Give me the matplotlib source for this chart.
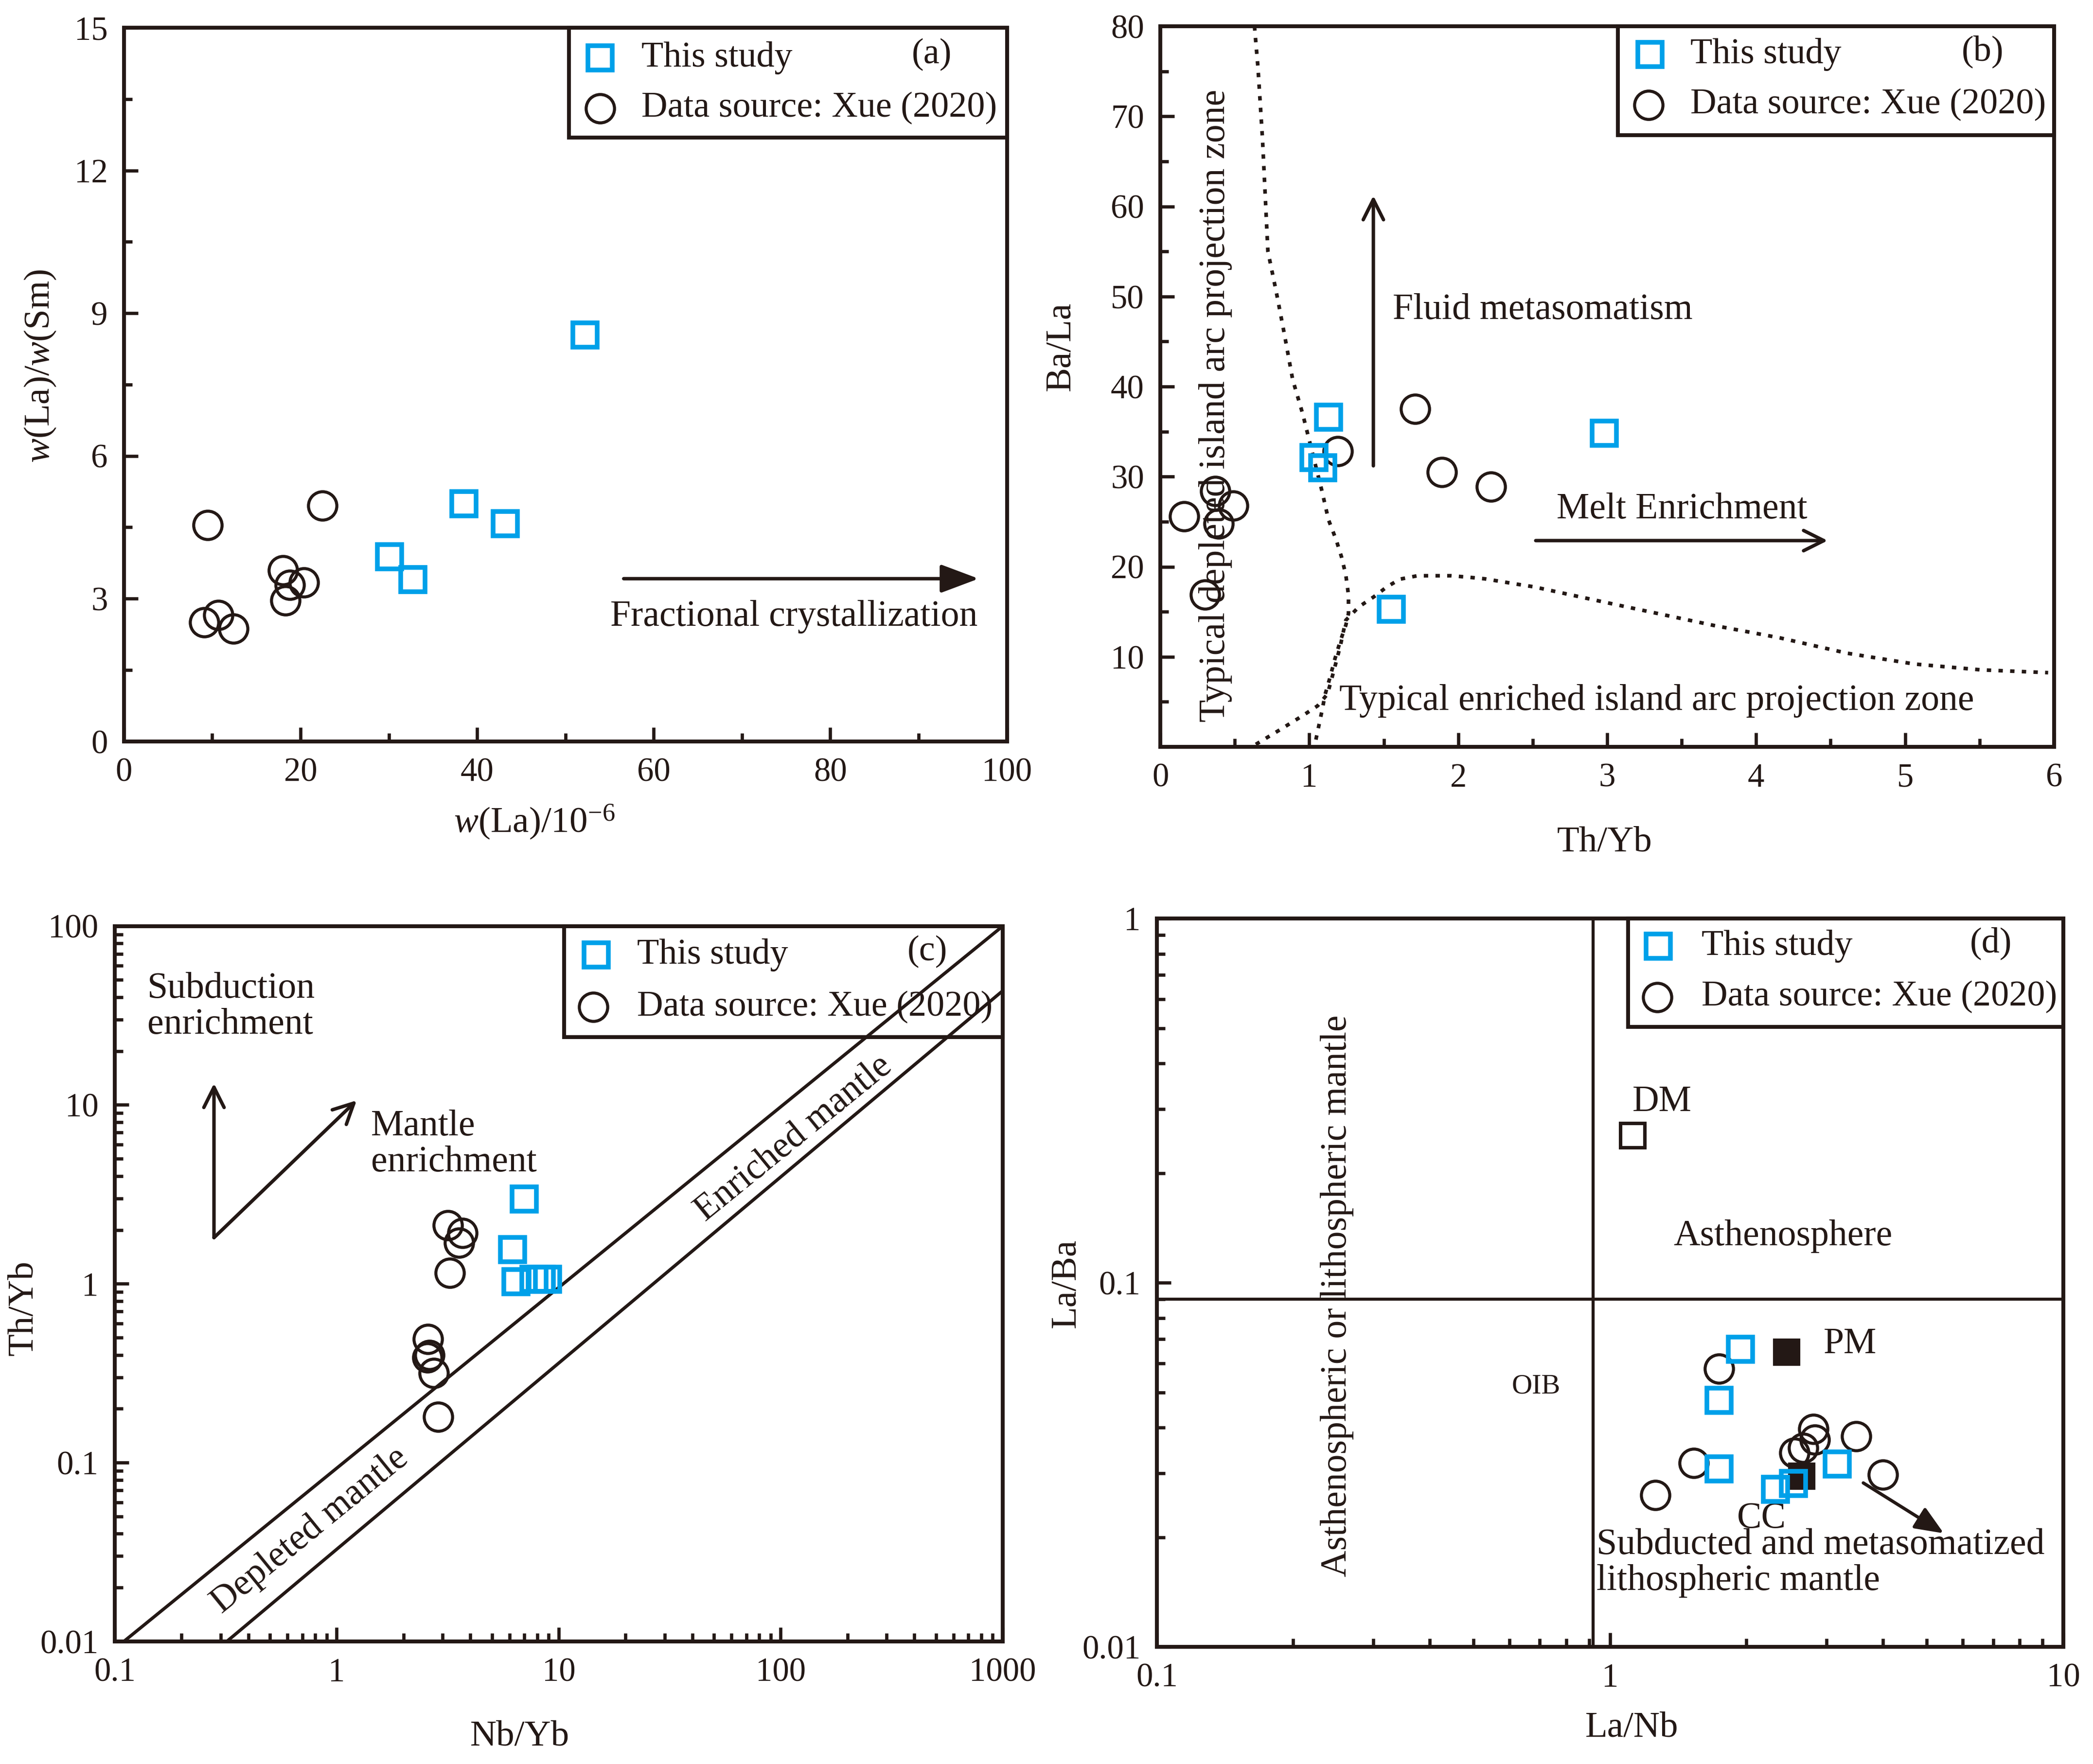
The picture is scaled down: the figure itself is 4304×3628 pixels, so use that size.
import numpy as np
import matplotlib
matplotlib.use("Agg")
import matplotlib.pyplot as plt
from matplotlib.patches import Rectangle
from matplotlib.ticker import MultipleLocator, LogLocator, FuncFormatter, NullFormatter, FixedLocator

plt.rcParams['font.family'] = ['Liberation Serif', 'DejaVu Serif']
plt.rcParams['mathtext.fontset'] = 'custom'
plt.rcParams['mathtext.rm'] = 'Liberation Serif'
plt.rcParams['mathtext.it'] = 'Liberation Serif:italic'

INK = '#231815'
BLUE = '#00A0E9'

# ---- (a) w(La) vs w(La)/w(Sm)
a_study_x = [52.2, 38.5, 43.2, 30.1, 32.7]
a_study_y = [8.54, 5.0, 4.58, 3.88, 3.40]
a_xue_x = [9.5, 22.5, 18.0, 18.8, 20.4, 18.3, 9.1, 10.7, 12.4]
a_xue_y = [4.55, 4.95, 3.60, 3.29, 3.34, 2.96, 2.50, 2.66, 2.37]

# ---- (b) Th/Yb vs Ba/La
b_study_x = [1.13, 1.03, 1.09, 1.55, 2.98]
b_study_y = [36.6, 32.1, 31.0, 15.3, 34.8]
b_xue_x = [0.16, 0.37, 0.39, 0.49, 0.30, 1.19, 1.71, 1.89, 2.22]
b_xue_y = [25.6, 28.4, 24.8, 26.8, 16.9, 32.8, 37.5, 30.5, 28.9]
b_depleted_x = [0.632, 0.655, 0.686, 0.722, 0.776, 0.834, 0.888, 0.955, 1.085, 1.129,
                1.18, 1.216, 1.245, 1.263, 1.263, 1.245, 1.209, 1.172, 1.136, 1.107, 1.085, 1.034]
b_depleted_y = [80, 75.5, 67.4, 55.0, 50.7, 45.7, 40.8, 37.0, 28.4, 25.2,
                23.0, 21.1, 19.1, 16.85, 14.8, 13.5, 11.8, 9.78, 7.54, 5.87, 4.0, 0.0]
b_enriched_x = [0.641, 0.809, 0.954, 1.056, 1.122, 1.165, 1.209, 1.245, 1.333, 1.434, 1.522,
                1.609, 1.726, 1.842, 1.951, 2.06, 2.177, 2.279, 2.395, 2.504, 3.0, 3.71,
                4.16, 4.61, 5.06, 5.51, 5.96]
b_enriched_y = [0.28, 1.96, 3.45, 4.56, 5.87, 8.47, 11.27, 14.06, 15.55, 16.67, 17.78,
                18.62, 19.0, 19.0, 19.0, 18.85, 18.66, 18.38, 18.06, 17.78, 16.0, 13.5,
                12.1, 10.4, 9.2, 8.55, 8.24]

# ---- (c) Nb/Yb vs Th/Yb
c_study_x = [7.0, 6.2, 6.41, 7.75, 8.36, 8.9]
c_study_y = [2.97, 1.55, 1.03, 1.06, 1.06, 1.06]
c_xue_x = [3.16, 3.68, 3.56, 3.24, 2.58, 2.56, 2.62, 2.74, 2.87]
c_xue_y = [2.13, 1.92, 1.69, 1.15, 0.49, 0.386, 0.40, 0.317, 0.18]
c_upper_x = [0.11, 1000]
c_upper_y = [0.01, 100]
c_lower_x = [0.32, 1000]
c_lower_y = [0.01, 43.5]

# ---- (d) La/Nb vs La/Ba
d_study_x = [1.94, 1.74, 1.74, 2.32, 2.54, 3.17]
d_study_y = [0.0656, 0.0475, 0.0308, 0.0271, 0.0281, 0.0318]
d_xue_x = [1.74, 1.53, 1.26, 2.81, 2.83, 2.67, 2.55, 3.49, 4.0]
d_xue_y = [0.0581, 0.0320, 0.0261, 0.0396, 0.0371, 0.0352, 0.0341, 0.0379, 0.0297]
d_dm = (1.12, 0.254)
d_pm = (2.45, 0.0644)
d_cc = (2.65, 0.0294)
d_vline = 0.917
d_hline = 0.090

fig = plt.figure(figsize=(4304 / 300, 3628 / 300), dpi=300)
ax_a = fig.add_axes([0.0592, 0.5797, 0.4219, 0.4046])
ax_b = fig.add_axes([0.5544, 0.5766, 0.4270, 0.4085])
ax_c = fig.add_axes([0.0548, 0.0695, 0.4243, 0.4055])
ax_d = fig.add_axes([0.5527, 0.0664, 0.4331, 0.4129])

TS = 18.2  # annotation text size
LS = 17.8  # legend text size
AS = 18    # axis label size


def style(ax):
    for s in ax.spines.values():
        s.set_linewidth(1.9)
        s.set_color(INK)
    ax.tick_params(which='both', direction='in', top=False, right=False,
                   colors=INK, width=1.6, labelsize=16.5, pad=8)
    ax.tick_params(which='major', length=7)
    ax.tick_params(which='minor', length=4)


def plot_points(ax, sx, sy, cx, cy):
    ax.plot(cx, cy, 'o', ms=14, mfc='none', mec=INK, mew=1.5, ls='none', zorder=4)
    ax.plot(sx, sy, 's', ms=12, mfc='none', mec=BLUE, mew=2.3, ls='none', zorder=5)


def legend_box(ax, x0, y0, sq, ci, tx, tag, tag_x):
    ax.add_patch(Rectangle((x0, y0), 1 - x0, 1 - y0, transform=ax.transAxes,
                           fill=False, ec=INK, lw=1.9, clip_on=False, zorder=6))
    ax.plot([sq[0]], [sq[1]], 's', ms=12, mfc='none', mec=BLUE, mew=2.3,
            transform=ax.transAxes, clip_on=False, zorder=6)
    ax.plot([ci[0]], [ci[1]], 'o', ms=14, mfc='none', mec=INK, mew=1.5,
            transform=ax.transAxes, clip_on=False, zorder=6)
    ax.text(tx, sq[1], 'This study', transform=ax.transAxes, fontsize=LS,
            color=INK, ha='left', va='center')
    ax.text(tx, ci[1], 'Data source: Xue (2020)', transform=ax.transAxes, fontsize=LS,
            color=INK, ha='left', va='center')
    ax.text(tag_x, sq[1] + 0.004, tag, transform=ax.transAxes, fontsize=LS,
            color=INK, ha='center', va='center')


def arrow(ax, start, end, style_str, scale=20, lw=1.7):
    ax.annotate('', xy=end, xytext=start,
                arrowprops=dict(arrowstyle=style_str, mutation_scale=scale, lw=lw,
                                color=INK, shrinkA=0, shrinkB=0))


g_fmt = FuncFormatter(lambda v, p: f'{v:g}')

# ---------------- (a)
ax = ax_a
style(ax)
ax.set_xlim(0, 100)
ax.set_ylim(0, 15)
ax.xaxis.set_major_locator(MultipleLocator(20))
ax.xaxis.set_minor_locator(MultipleLocator(10))
ax.yaxis.set_major_locator(MultipleLocator(3))
ax.yaxis.set_minor_locator(MultipleLocator(1.5))
plot_points(ax, a_study_x, a_study_y, a_xue_x, a_xue_y)
arrow(ax, (56.6, 3.42), (96.8, 3.42), '-|>,head_length=0.8,head_width=0.3')
ax.text(75.9, 2.62, 'Fractional crystallization', fontsize=TS, color=INK,
        ha='center', va='center')
ax.set_xlabel('$w$(La)/10$^{-6}$', fontsize=AS, color=INK)
ax.set_ylabel('$w$(La)/$w$(Sm)', fontsize=AS, color=INK)
ax.xaxis.set_label_coords(0.465, -0.086)
ax.yaxis.set_label_coords(-0.075, 0.526)
legend_box(ax, 0.504, 0.846, (0.539, 0.958), (0.539, 0.887), 0.586, '(a)', 0.915)

# ---------------- (b)
ax = ax_b
style(ax)
ax.set_xlim(0, 6)
ax.set_ylim(0, 80)
ax.xaxis.set_major_locator(MultipleLocator(1))
ax.xaxis.set_minor_locator(MultipleLocator(0.5))
ax.yaxis.set_major_locator(FixedLocator([10, 20, 30, 40, 50, 60, 70, 80]))
ax.yaxis.set_minor_locator(MultipleLocator(5))
ax.plot(b_depleted_x, b_depleted_y, color=INK, lw=1.8, ls=(0, (1.2, 2.0)), zorder=3)
ax.plot(b_enriched_x, b_enriched_y, color=INK, lw=1.8, ls=(0, (1.2, 2.0)), zorder=3)
plot_points(ax, b_study_x, b_study_y, b_xue_x, b_xue_y)
arrow(ax, (1.43, 31.2), (1.43, 61.2), '->,head_length=0.5,head_width=0.25')
arrow(ax, (2.52, 22.9), (4.48, 22.9), '->,head_length=0.5,head_width=0.25')
ax.text(1.56, 48.5, 'Fluid metasomatism', fontsize=TS, color=INK, ha='left', va='center')
ax.text(2.66, 26.4, 'Melt Enrichment', fontsize=TS, color=INK, ha='left', va='center')
ax.text(1.20, 5.1, 'Typical enriched island arc projection zone', fontsize=TS,
        color=INK, ha='left', va='center')
ax.text(0.37, 37.9, 'Typical depleted island arc projection zone', fontsize=TS,
        color=INK, ha='center', va='center', rotation=90)
ax.set_xlabel('Th/Yb', fontsize=AS, color=INK)
ax.set_ylabel('Ba/La', fontsize=AS, color=INK)
ax.xaxis.set_label_coords(0.497, -0.11)
ax.yaxis.set_label_coords(-0.093, 0.556)
legend_box(ax, 0.512, 0.849, (0.548, 0.961), (0.546, 0.891), 0.593, '(b)', 0.92)

# ---------------- (c)
ax = ax_c
style(ax)
ax.set_xscale('log')
ax.set_yscale('log')
ax.set_xlim(0.1, 1000)
ax.set_ylim(0.01, 100)
for axis in (ax.xaxis, ax.yaxis):
    axis.set_major_locator(LogLocator(base=10, numticks=10))
    axis.set_minor_locator(LogLocator(base=10, subs=np.arange(2, 10), numticks=20))
    axis.set_major_formatter(g_fmt)
    axis.set_minor_formatter(NullFormatter())
ax.plot(c_upper_x, c_upper_y, color=INK, lw=1.6, zorder=3)
ax.plot(c_lower_x, c_lower_y, color=INK, lw=1.6, zorder=3)
plot_points(ax, c_study_x, c_study_y, c_xue_x, c_xue_y)
arrow(ax, (0.28, 1.81), (0.28, 13.2), '->,head_length=0.5,head_width=0.25')
arrow(ax, (0.28, 1.81), (1.23, 10.6), '->,head_length=0.5,head_width=0.25')
ax.text(0.14, 35.4, 'Subduction\nenrichment', fontsize=TS, color=INK, ha='left',
        va='center', linespacing=1.1)
ax.text(1.43, 6.02, 'Mantle\nenrichment', fontsize=TS, color=INK, ha='left',
        va='center', linespacing=1.1)
p0, p1 = ax.transData.transform([(c_upper_x[0], c_upper_y[0]), (c_upper_x[1], c_upper_y[1])])
ang = np.degrees(np.arctan2(p1[1] - p0[1], p1[0] - p0[0]))
ax.text(0.76, 0.0416, 'Depleted mantle', fontsize=TS, color=INK, ha='center',
        va='center', rotation=ang, rotation_mode='anchor')
ax.text(114.6, 6.5, 'Enriched mantle', fontsize=TS, color=INK, ha='center',
        va='center', rotation=ang, rotation_mode='anchor')
ax.set_xlabel('Nb/Yb', fontsize=AS, color=INK)
ax.set_ylabel('Th/Yb', fontsize=AS, color=INK)
ax.xaxis.set_label_coords(0.456, -0.11)
ax.yaxis.set_label_coords(-0.084, 0.466)
legend_box(ax, 0.506, 0.845, (0.542, 0.96), (0.539, 0.887), 0.588, '(c)', 0.915)

# ---------------- (d)
ax = ax_d
style(ax)
ax.set_xscale('log')
ax.set_yscale('log')
ax.set_xlim(0.1, 10)
ax.set_ylim(0.01, 1)
for axis in (ax.xaxis, ax.yaxis):
    axis.set_major_locator(LogLocator(base=10, numticks=10))
    axis.set_minor_locator(LogLocator(base=10, subs=np.arange(2, 10), numticks=20))
    axis.set_major_formatter(g_fmt)
    axis.set_minor_formatter(NullFormatter())
ax.axvline(d_vline, color=INK, lw=1.5, zorder=2)
ax.axhline(d_hline, color=INK, lw=1.5, zorder=2)
ax.plot([d_dm[0]], [d_dm[1]], 's', ms=12, mfc='none', mec=INK, mew=1.7, zorder=4)
ax.plot([d_pm[0]], [d_pm[1]], 's', ms=12.5, mfc=INK, mec=INK, zorder=4)
ax.plot([d_cc[0]], [d_cc[1]], 's', ms=12.5, mfc=INK, mec=INK, zorder=3)
plot_points(ax, d_study_x, d_study_y, d_xue_x, d_xue_y)
arrow(ax, (3.62, 0.0282), (5.45, 0.0205), '-|>,head_length=0.6,head_width=0.25', lw=1.6)
ax.text(1.12, 0.313, 'DM', fontsize=TS, color=INK, ha='left', va='center')
ax.text(2.96, 0.0677, 'PM', fontsize=TS, color=INK, ha='left', va='center')
ax.text(2.16, 0.0225, 'CC', fontsize=TS, color=INK, ha='center', va='center')
ax.text(0.687, 0.0519, 'OIB', fontsize=14, color=INK, ha='center', va='center')
ax.text(1.38, 0.134, 'Asthenosphere', fontsize=TS, color=INK, ha='left', va='center')
ax.text(0.933, 0.017, 'Subducted and metasomatized\nlithospheric mantle', fontsize=TS,
        color=INK, ha='left', va='center', linespacing=1.1)
ax.text(0.25, 0.092, 'Asthenospheric or lithospheric mantle', fontsize=TS, color=INK,
        ha='center', va='center', rotation=90)
ax.set_xlabel('La/Nb', fontsize=AS, color=INK)
ax.set_ylabel('La/Ba', fontsize=AS, color=INK)
ax.xaxis.set_label_coords(0.524, -0.089)
ax.yaxis.set_label_coords(-0.082, 0.499)
legend_box(ax, 0.520, 0.851, (0.553, 0.962), (0.552, 0.892), 0.601, '(d)', 0.92)

fig.savefig('out.png', dpi=300, facecolor='white')
